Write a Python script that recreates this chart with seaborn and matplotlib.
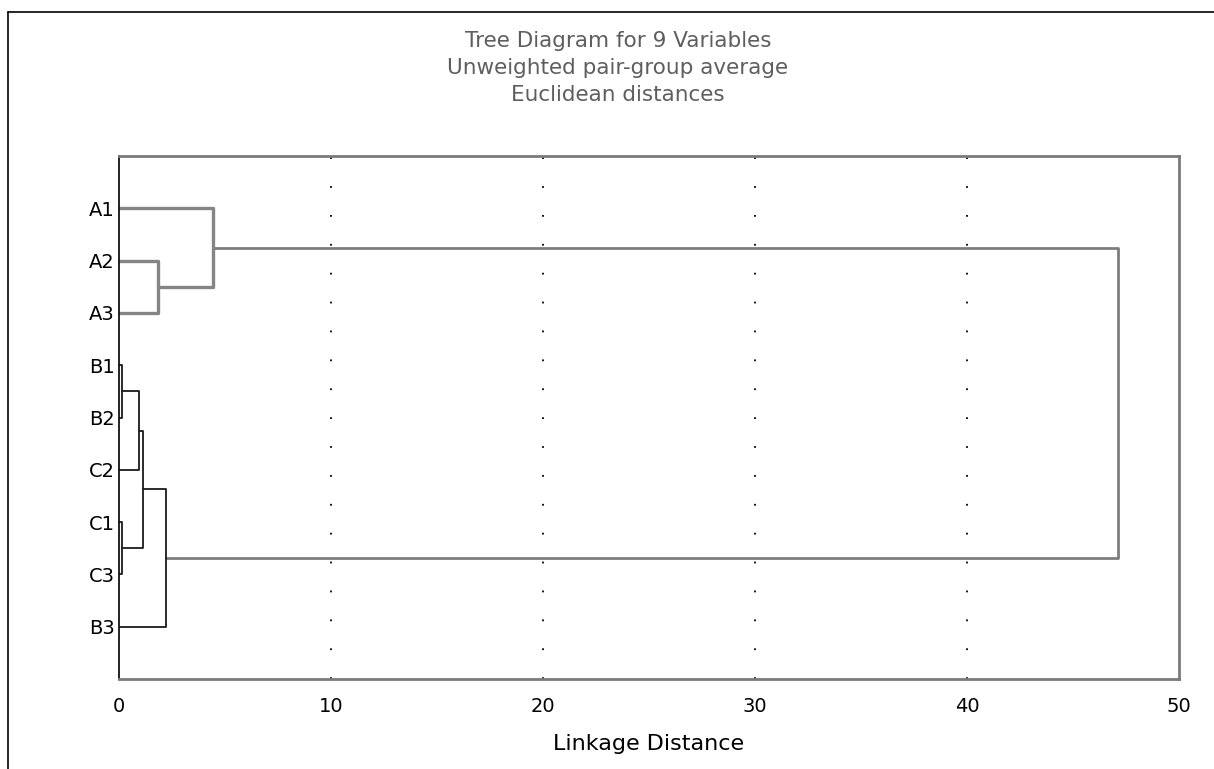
import numpy as np
import pandas as pd
import matplotlib
matplotlib.use("Agg")
import matplotlib.pyplot as plt
from matplotlib.lines import Line2D
import seaborn as sns

# ---- data ----
leaf_labels = ["A1", "A2", "A3", "B1", "B2", "C2", "C1", "C3", "B3"]
merge_left = [3, 6, 1, 9, 12, 13, 0, 15]
merge_right = [4, 7, 2, 5, 10, 8, 11, 14]
merge_height = [0.15, 0.15, 1.85, 0.93, 1.13, 2.2, 4.45, 47.1]
merge_group = ["BC", "BC", "A", "BC", "BC", "BC", "A", "top"]
x_ticks = [0, 10, 20, 30, 40, 50]
title_lines = ["Tree Diagram for 9 Variables", "Unweighted pair-group average", "Euclidean distances"]
x_label = "Linkage Distance"

# ---- build dendrogram segments ----
n = len(leaf_labels)
pos = {i: (0.0, float(i)) for i in range(n)}
rows = []
for k, (a, b, h, g) in enumerate(zip(merge_left, merge_right, merge_height, merge_group)):
    xa, ya = pos[a]
    xb, yb = pos[b]
    pts = [(xa, ya), (h, ya), (h, yb), (xb, yb)]
    for j, (px, py) in enumerate(pts):
        rows.append({"link": k, "order": j, "x": px, "y": py, "group": g})
    pos[n + k] = (h, (ya + yb) / 2)
df = pd.DataFrame(rows)

sns.set_theme(style="white")
plt.rcParams["font.family"] = ["DejaVu Sans"]

fig = plt.figure(figsize=(12.14, 7.69), dpi=100)
ax = fig.add_axes([119 / 1214, 1 - 679 / 769, 1060 / 1214, 523 / 769])

palette = {"A": "#858585", "BC": "#1a1a1a", "top": "#7d7d7d"}
widths = {"A": 2.4, "BC": 1.3, "top": 2.0}
for g in ["top", "A", "BC"]:
    sub = df[df["group"] == g]
    sns.lineplot(data=sub, x="x", y="y", units="link", estimator=None, sort=False,
                 color=palette[g], linewidth=widths[g], ax=ax, legend=False)

ax.set_xlim(0, 50)
ax.set_ylim(n, -1)
ax.set_xticks(x_ticks)
ax.set_xticklabels([str(t) for t in x_ticks])
ax.set_yticks(range(n))
ax.set_yticklabels(leaf_labels)
ax.tick_params(axis="x", length=0, pad=13, labelsize=14, colors="black")
ax.tick_params(axis="y", length=0, pad=3, labelsize=14, colors="black")
ax.set_xlabel(x_label, fontsize=16, labelpad=13, color="black")
ax.set_ylabel("")

for xv in x_ticks[1:-1]:
    ax.axvline(xv, color="black", linewidth=1.3, linestyle=(0, (1, 15)), zorder=0)

for side, sp in ax.spines.items():
    sp.set_visible(True)
    sp.set_color("#7a7a7a")
    sp.set_linewidth(2.0)
ax.spines["left"].set_color("#111111")
ax.spines["left"].set_linewidth(1.3)

for i, t in enumerate(title_lines):
    fig.text(618 / 1214, 1 - (41 + 27 * i) / 769, t, ha="center", va="center",
             fontsize=15.5, color="#5e5e5e")

fig.add_artist(Line2D([8 / 1214, 8 / 1214], [0, 1 - 12 / 769], transform=fig.transFigure,
                      color="black", linewidth=1.2))
fig.add_artist(Line2D([8 / 1214, 1], [1 - 12 / 769, 1 - 12 / 769], transform=fig.transFigure,
                      color="black", linewidth=1.2))

fig.savefig("out.png", dpi=100, facecolor="white")
